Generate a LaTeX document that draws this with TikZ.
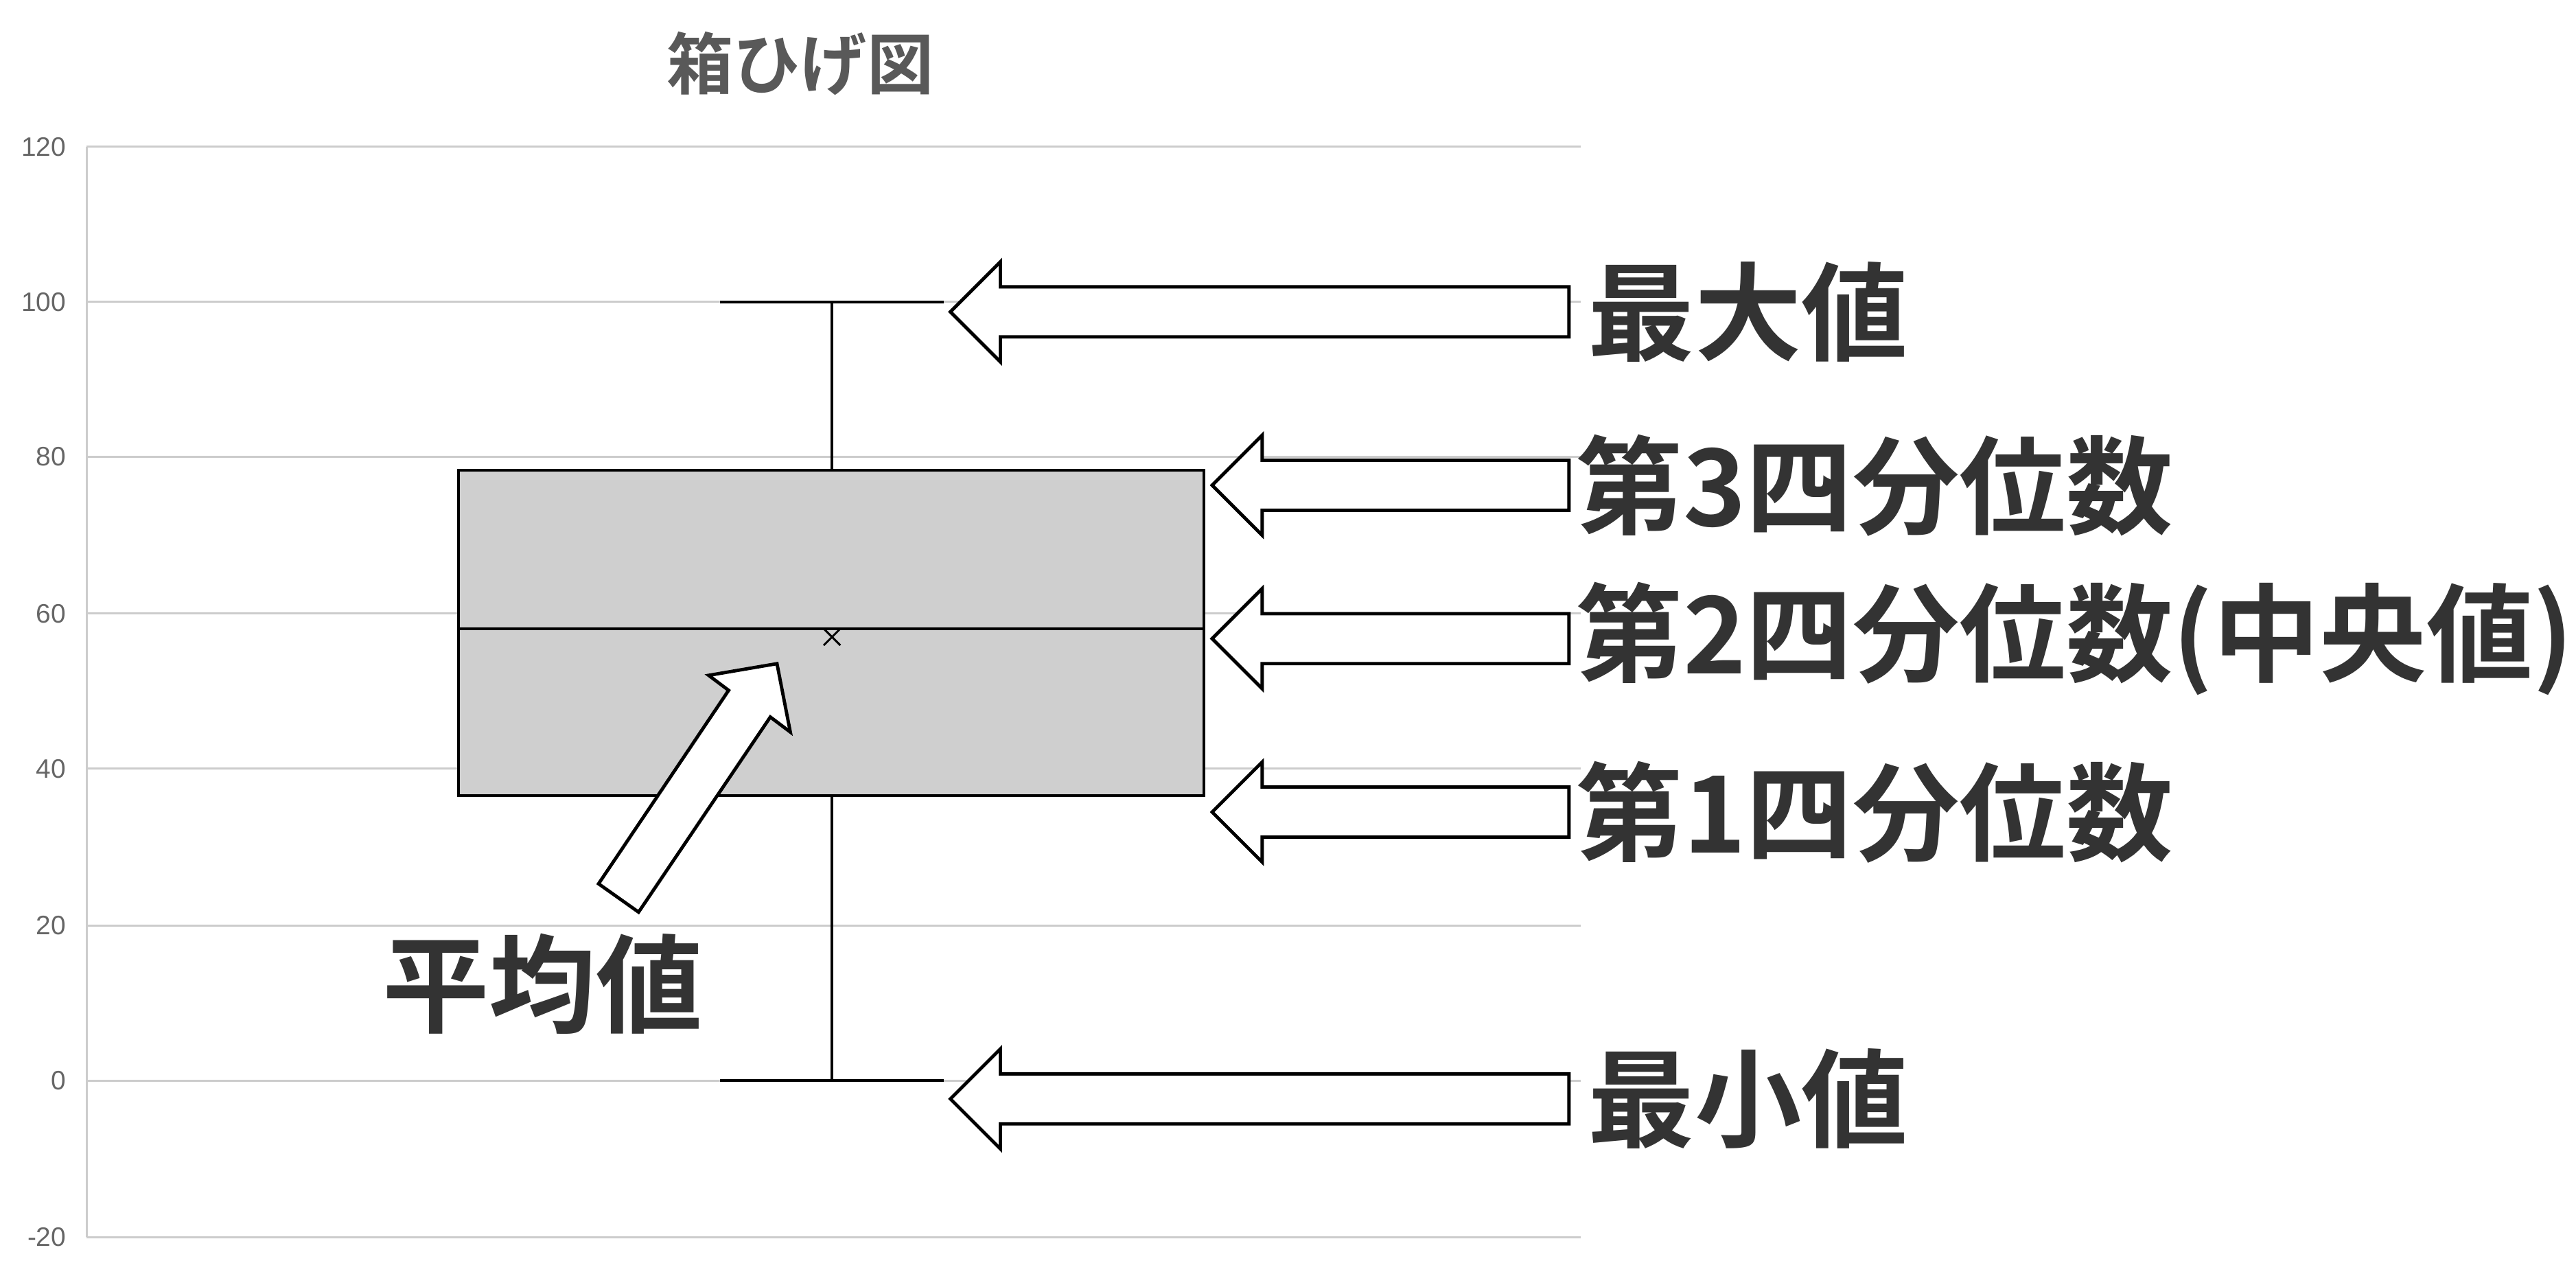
\documentclass[tikz,border=0pt]{standalone}
\usepackage{fontspec}
\setmainfont{Liberation Sans}
\newfontfamily\cjk{Noto Sans CJK JP}
\newfontfamily\cjkb{Noto Sans CJK JP Bold}
\begin{document}
\begin{tikzpicture}[x=0.5pt,y=-0.5pt,
  grid/.style={draw=black!20,line width=0.6pt},
  tick/.style={font=\fontsize{8}{8}\selectfont,text=black!60,anchor=east,inner sep=0pt},
  lab/.style={font=\cjkb\fontsize{32}{32}\selectfont,text=black!80,anchor=west,inner sep=0pt},
  harrow/.style={draw=black,fill=white,line width=1pt,line join=miter}]
\useasboundingbox (0,0) rectangle (1545,756);
\node[font=\cjkb\fontsize{20}{20}\selectfont,text=black!65] (title) at (480,38) {箱ひげ図};
\foreach \v/\y in {120/88,100/181,80/274,60/368,40/461,20/555,0/648,-20/742}{
  \draw[grid] (52,\y) -- (948,\y);
  \node[tick] (t\v) at (40,\y) {\v};
}
\draw[grid] (52,88) -- (52,742);
% box
\draw[fill=black!19,line width=0.8pt] (275,282) rectangle (722,477);
\draw[line width=0.8pt] (275,377) -- (722,377);
\draw[line width=0.8pt] (499,181) -- (499,282) (432,181) -- (566,181);
\draw[line width=0.8pt] (499,477) -- (499,648) (432,648) -- (566,648);
\draw[line width=0.6pt] (494,377) -- (504,387) (494,387) -- (504,377);
% left arrows
\foreach \tx/\y/\n in {570/187/a,727/291/b,727/383/c,727/487/d,570/659/e}{
  \draw[harrow] (\tx,\y) -- (\tx+30,\y-30) -- (\tx+30,\y-15) -- (941,\y-15) -- (941,\y+15) -- (\tx+30,\y+15) -- (\tx+30,\y+30) -- cycle;
}
\node[lab] (l1) at (952,187) {最大値};
\node[lab] (l2) at (945,291) {第3四分位数};
\node[lab] (l3) at (945,383) {第2四分位数(中央値)};
\node[lab] (l4) at (945,487) {第1四分位数};
\node[lab] (l5) at (952,659) {最小値};
% mean arrow
\draw[harrow] (466,398) -- (474,439) -- (462,430) -- (383,547) -- (359,530) -- (437,414) -- (425,405) -- cycle;
\node[lab] (mean) at (229,590) {平均値};
\end{tikzpicture}
\end{document}
